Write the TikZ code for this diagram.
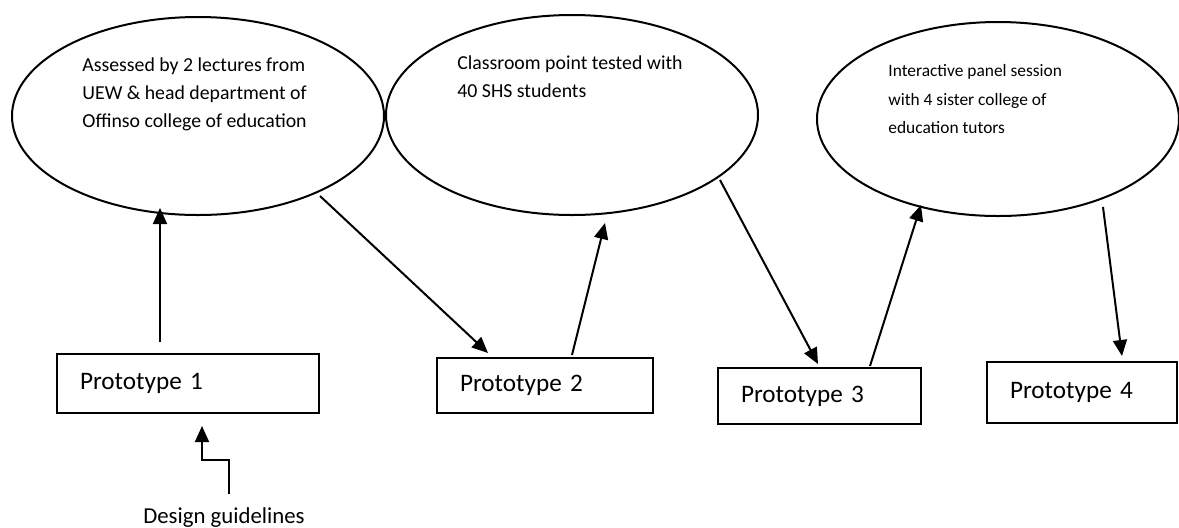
\documentclass[tikz,border=0pt]{standalone}
\usepackage{fontspec}
\setmainfont{Carlito}
\usetikzlibrary{shapes.geometric,arrows.meta,calc}

\tikzset{
  stage/.style={draw,ellipse,line width=1pt,inner sep=0pt},
  stagetext/.style={anchor=north west,align=left,inner sep=0pt,font=\fontsize{9.9}{14}\selectfont},
  proto/.style={draw,line width=1pt,align=left,inner xsep=11.5pt,inner ysep=0pt,font=\fontsize{12.6}{15}\selectfont},
  flow/.style={->,>={Triangle[length=8pt,width=7pt]},line width=1pt}
}

\begin{document}
\begin{tikzpicture}[x=0.5pt,y=-0.5pt]
\useasboundingbox (0,0) rectangle (1179,527);

 % ellipses
 \node[stage,minimum width=186pt,minimum height=99pt] (e1) at (198,116) {};
 \node[stage,minimum width=186pt,minimum height=100pt] (e2) at (572,115) {};
 \node[stage,minimum width=181pt,minimum height=97pt] (e3) at (998,119) {};

 \node[stagetext] (t1) at (82,57) {Assessed by 2 lectures from\\UEW \& head department of\\Offinso college of education};
 \node[stagetext] (t2) at (457,55) {Classroom point tested with\\40 SHS students};
 \node[stagetext,font=\fontsize{8.7}{14.3}\selectfont] (t3) at (888,64) {Interactive panel session\\with 4 sister college of\\education tutors};

 % prototypes
 \node[proto,text width=108pt,minimum height=29.5pt] (b1) at (188,383.5) {Prototype 1};
 \node[proto,text width=85pt,minimum height=27.5pt] (b2) at (545,385.5) {Prototype 2};
 \node[proto,text width=78.5pt,minimum height=28pt] (b3) at (819.5,396) {Prototype 3};
 \node[proto,text width=72pt,minimum height=30.5pt] (b4) at (1082,392.5) {Prototype 4};

 \node[inner sep=0pt,anchor=base,font=\fontsize{11.4}{13}\selectfont] (dg) at (224,523) {Design guidelines};

 \draw[flow] ($(b1.north)+(-28,-11)$) -- ($(e1.center)+(-38,92)$);
 \draw[flow] ($(e1.center)+(122,80)$) -- ($(b2.north)+(-57,-4)$);
 \draw[flow] ($(b2.north)+(27,-2)$) -- ($(e2.center)+(33,108)$);
 \draw[flow] ($(e2.center)+(148,65)$) -- ($(b3.north)+(-1.5,-3)$);
 \draw[flow] ($(b3.north)+(50.5,-1)$) -- ($(e3.center)+(-77,86)$);
 \draw[flow] ($(e3.center)+(105,88)$) -- ($(b4.north)+(40,-5)$);

 \draw[flow] ($(dg.north)+(5,-13)$) -- ++(0,-34) -| ($(b1.south)+(14,12)$);
\end{tikzpicture}
\end{document}
